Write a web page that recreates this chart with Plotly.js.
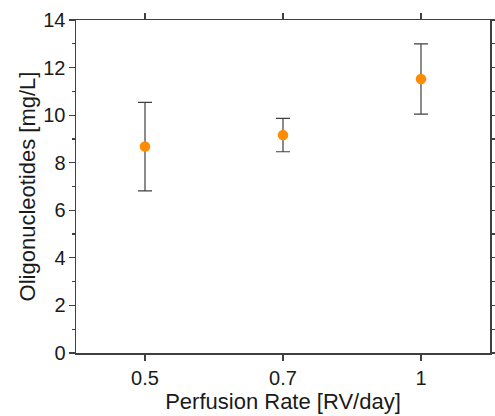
<!DOCTYPE html>
<html>
<head>
<meta charset="utf-8">
<script src="https://cdn.plot.ly/plotly-3.0.1.min.js"></script>
<style>html,body{margin:0;padding:0;background:#fff;}#chart{width:495px;height:416px;}</style>
</head>
<body>
<div id="chart"></div>
<script>
const categories = ['0.5', '0.7', '1'];
const means = [8.68, 9.16, 11.52];
const errors = [1.86, 0.70, 1.48];

const axisColor = '#404040';
const fontFam = '"Liberation Sans", Arial, sans-serif';

const trace = {
  type: 'scatter',
  mode: 'markers',
  x: categories,
  y: means,
  marker: {color: '#FF8C00', size: 10.5},
  error_y: {type: 'data', array: errors, visible: true, color: '#404040', thickness: 1.2, width: 7},
  showlegend: false,
  hoverinfo: 'x+y'
};

const layout = {
  width: 495,
  height: 416,
  margin: {l: 76, r: 5, t: 20, b: 63},
  paper_bgcolor: '#fff',
  plot_bgcolor: '#fff',
  font: {family: fontFam, color: '#1a1a1a', size: 20},
  xaxis: {
    type: 'category',
    categoryorder: 'array',
    categoryarray: categories,
    range: [-0.5, 2.5],
    showgrid: false,
    zeroline: false,
    showline: true,
    linecolor: axisColor,
    linewidth: 1.5,
    mirror: 'allticks',
    ticks: 'outside',
    ticklen: 6,
    tickwidth: 1.2,
    tickcolor: axisColor,
    tickfont: {size: 20, color: '#1a1a1a'},
    title: {text: 'Perfusion Rate [RV/day]', font: {size: 22, color: '#1a1a1a'}, standoff: 6}
  },
  yaxis: {
    range: [0, 14],
    dtick: 2,
    showgrid: false,
    zeroline: false,
    showline: true,
    linecolor: axisColor,
    linewidth: 1.5,
    mirror: 'allticks',
    ticks: 'outside',
    ticklen: 6,
    tickwidth: 1.2,
    tickcolor: axisColor,
    ticklabelstandoff: -1,
    tickfont: {size: 20, color: '#1a1a1a'},
    minor: {dtick: 1, ticks: 'outside', ticklen: 3, tickwidth: 1.2, tickcolor: axisColor},
    title: {text: 'Oligonucleotides [mg/L]', font: {size: 22, color: '#1a1a1a'}, standoff: 1}
  }
};

Plotly.newPlot('chart', [trace], layout, {displayModeBar: false, staticPlot: true});
</script>
</body>
</html>
